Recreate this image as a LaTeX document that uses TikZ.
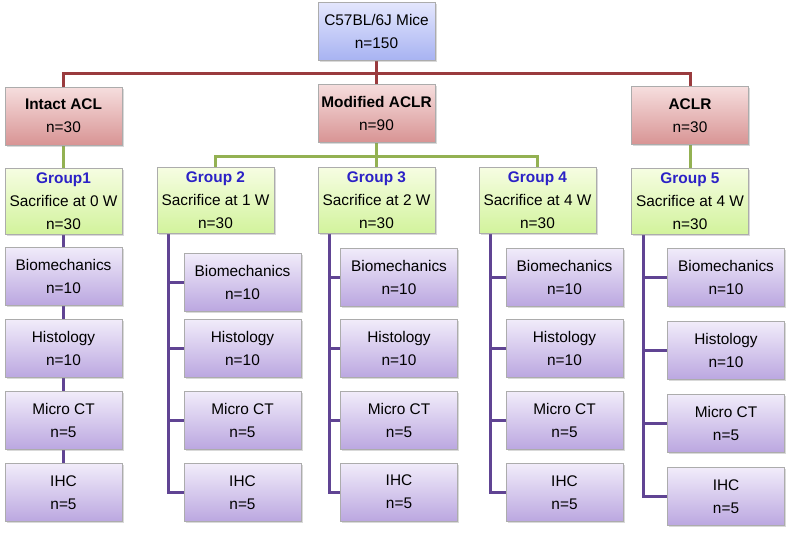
\documentclass[tikz,border=0pt]{standalone}
\usepackage{fontspec}
\setmainfont{Liberation Sans}
\usetikzlibrary{shadows,calc,backgrounds}

\definecolor{redln}{HTML}{9A3B3E}
\definecolor{greenln}{HTML}{93B152}
\definecolor{purpln}{HTML}{604493}
\definecolor{grpblue}{HTML}{2B21C6}
\definecolor{micetop}{HTML}{E4E7FD}
\definecolor{micebot}{HTML}{A8B3F2}
\definecolor{armtop}{HTML}{F6DEDE}
\definecolor{armbot}{HTML}{D89494}
\definecolor{grptop}{HTML}{F6FDE2}
\definecolor{grpbot}{HTML}{D2F39C}
\definecolor{testtop}{HTML}{F1ECFA}
\definecolor{testbot}{HTML}{BBA7E0}

\tikzset{
  box/.style={draw=gray!65, line width=0.9pt, align=center, inner sep=0pt,
    minimum width=117pt, minimum height=58pt,
    font=\fontsize{15.4}{23}\selectfont,
    drop shadow={opacity=0.3, shadow xshift=1.5pt, shadow yshift=-1.5pt}},
  topbox/.style={box, top color=micetop, bottom color=micebot},
  armbox/.style={box, top color=armtop, bottom color=armbot},
  grpbox/.style={box, minimum height=66pt, top color=grptop, bottom color=grpbot},
  testbox/.style={box, top color=testtop, bottom color=testbot},
  redwire/.style={draw=redln, line width=3pt},
  greenwire/.style={draw=greenln, line width=3pt},
  purpwire/.style={draw=purpln, line width=3pt},
}

\newcommand{\grp}[1]{{\bfseries\color{grpblue}#1}}

\begin{document}
\begin{tikzpicture}[x=1pt, y=-1pt]
  \useasboundingbox (0,0) rectangle (789,533);

  % mice and the three arms
  \node[topbox] (mice) at (376.5,31) {C57BL/6J Mice\\n=150};
  \node[armbox] (intact) at (63.5,116) {\textbf{Intact ACL}\\n=30};
  \node[armbox] (modif) at (376.5,113) {\textbf{Modified ACLR}\\n=90};
  \node[armbox] (aclr) at (690,115.5) {\textbf{ACLR}\\n=30};

  % sacrifice groups
  \node[grpbox] (g1) at (63.5,201) {\grp{Group1}\\Sacrifice at 0 W\\n=30};
  \node[grpbox] (g2) at (215.5,200.5) {\grp{Group 2}\\Sacrifice at 1 W\\n=30};
  \node[grpbox] (g3) at (376.5,200.5) {\grp{Group 3}\\Sacrifice at 2 W\\n=30};
  \node[grpbox] (g4) at (537.5,200.5) {\grp{Group 4}\\Sacrifice at 4 W\\n=30};
  \node[grpbox] (g5) at (690,201) {\grp{Group 5}\\Sacrifice at 4 W\\n=30};

  % tests per group
  \foreach \c/\x/\ya/\yb/\yc/\yd in {1/63.5/276/348.5/420.5/492.5,
      2/242.5/282/348/420/492.5, 3/399/277/348.5/420.5/492,
      4/564.5/277/348/420.5/492.5, 5/726/277/350.5/423/496.5} {
    \node[testbox] (b\c) at (\x,\ya) {Biomechanics\\n=10};
    \node[testbox] (h\c) at (\x,\yb) {Histology\\n=10};
    \node[testbox] (m\c) at (\x,\yc) {Micro CT\\n=5};
    \node[testbox] (i\c) at (\x,\yd) {IHC\\n=5};
  }

  \begin{scope}[on background layer]
  % red bus
  \coordinate (rbus) at ($(mice.south)!0.55!(modif.north)$);
  \draw[redwire] (mice.south) -- (modif.north);
  \draw[redwire] (intact.north) |- (rbus) -| (aclr.north);

  % green bus
  \coordinate (gbus) at ($(modif.south)!0.58!(g3.north)$);
  \draw[greenwire] (intact.south) -- (g1.north);
  \draw[greenwire] (aclr.south) -- (g5.north);
  \draw[greenwire] (modif.south) -- (g3.north);
  \draw[greenwire] (g2.north) |- (gbus) -| (g4.north);

  % group 1 chain
  \draw[purpwire] (g1.south) -- (b1.north);
  \draw[purpwire] (b1.south) -- (h1.north);
  \draw[purpwire] (h1.south) -- (m1.north);
  \draw[purpwire] (m1.south) -- (i1.north);

  % trunks of groups 2-5
  \foreach \c in {2,3,4,5} {
    \coordinate (t\c) at ([xshift=12pt]g\c.south west);
    \draw[purpwire] (t\c) |- (b\c.west);
    \draw[purpwire] (t\c) |- (h\c.west);
    \draw[purpwire] (t\c) |- (m\c.west);
    \draw[purpwire] (t\c) |- (i\c.west);
  }
  \end{scope}
\end{tikzpicture}
\end{document}
